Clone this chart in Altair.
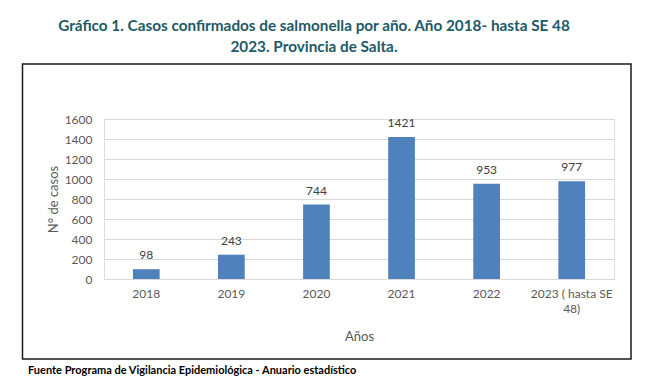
import altair as alt
import pandas as pd

years = ["2018", "2019", "2020", "2021", "2022", "2023 ( hasta SE 48)"]
cases = [98, 243, 744, 1421, 953, 977]
y_ticks = [0, 200, 400, 600, 800, 1000, 1200, 1400, 1600]

title_line1 = "Gráfico 1. Casos confirmados de salmonella por año. Año 2018- hasta SE 48"
title_line2 = "2023. Provincia de Salta."
footer_text = "Fuente Programa de Vigilancia Epidemiológica - Anuario estadístico"

df = pd.DataFrame({"year": years, "cases": cases})

FONT = "Lato"
W, H = 510, 160

x_enc = alt.X(
    "year:N",
    sort=years,
    scale=alt.Scale(paddingInner=0.686, paddingOuter=0.34),
    axis=alt.Axis(
        title="Años",
        labelAngle=0,
        labelPadding=9,
        labelFontSize=12,
        labelColor="#595959",
        labelFont=FONT,
        labelExpr="datum.value == '2023 ( hasta SE 48)' ? ['2023 ( hasta SE', '48)'] : datum.label",
        labelLineHeight=15,
        domainColor="#d9d9d9",
        ticks=False,
        titleFont=FONT,
        titleFontSize=13,
        titleFontWeight="normal",
        titleColor="#595959",
        titlePadding=16,
    ),
)
y_enc = alt.Y(
    "cases:Q",
    scale=alt.Scale(domain=[0, 1600]),
    axis=alt.Axis(
        title="N° de casos",
        values=y_ticks,
        format="d",
        labelOverlap=False,
        grid=True,
        gridColor="#d9d9d9",
        domain=False,
        ticks=False,
        labelPadding=12,
        labelFontSize=12,
        labelColor="#595959",
        labelFont=FONT,
        titleFont=FONT,
        titleFontSize=13,
        titleFontWeight="normal",
        titleColor="#595959",
        titlePadding=4,
    ),
)

base = alt.Chart(df)
bars = base.mark_bar(color="#4F81BD").encode(x=x_enc, y=y_enc)
labels = base.mark_text(
    baseline="bottom", dy=-7, fontSize=12, font=FONT, color="#404040"
).encode(x=x_enc, y=y_enc, text="cases:Q")

one = pd.DataFrame({"a": [1]})
box = alt.Chart(one).mark_rect(
    fill=None, fillOpacity=0, stroke="#1a1a1a", strokeWidth=1.5, clip=False
).encode(
    x=alt.value(-81.5), x2=alt.value(527), y=alt.value(-55), y2=alt.value(240)
)
t1 = alt.Chart(pd.DataFrame({"t": [title_line1]})).mark_text(
    font=FONT, fontSize=15.3, fontWeight="bold", color="#215968",
    align="center", baseline="middle",
).encode(text="t:N", x=alt.value(210), y=alt.value(-93))
t2 = alt.Chart(pd.DataFrame({"t": [title_line2]})).mark_text(
    font=FONT, fontSize=15.3, fontWeight="bold", color="#215968",
    align="center", baseline="middle",
).encode(text="t:N", x=alt.value(210), y=alt.value(-72))
foot = alt.Chart(pd.DataFrame({"t": [footer_text]})).mark_text(
    font=FONT, fontSize=11, fontWeight="bold", color="#000000",
    align="left", baseline="middle",
).encode(text="t:N", x=alt.value(-76), y=alt.value(252))

chart = alt.layer(box, bars, labels, t1, t2, foot).properties(
    width=W,
    height=H,
    autosize=alt.AutoSizeParams(type="none"),
    padding={"left": 96, "top": 111, "right": 26, "bottom": 100},
).configure_view(stroke=None).configure(background="white")

chart.save("out.html", embed_options={"renderer": "svg", "actions": False})
